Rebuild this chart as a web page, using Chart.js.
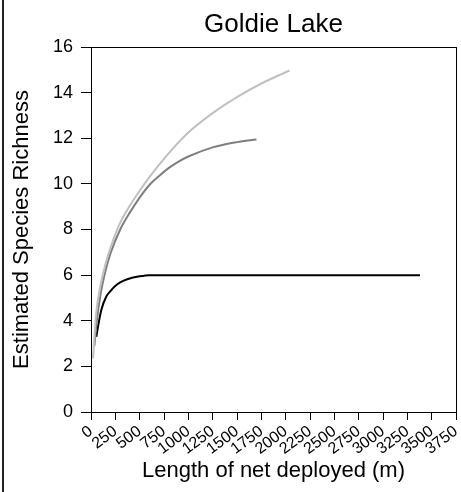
<!DOCTYPE html>
<html>
<head>
<meta charset="utf-8">
<script src="https://cdn.jsdelivr.net/npm/chart.js@4/dist/chart.umd.min.js"></script>
<style>
  body { margin: 0; background: #fff; }
  #wrap { position: relative; width: 461px; height: 492px; }
  #edge { position: absolute; left: 2px; top: 0; width: 2px; height: 492px; background: #222; }
</style>
</head>
<body>
<div id="wrap">
  <canvas id="goldieGraph" width="461" height="492"></canvas>
  <div id="edge"></div>
</div>
<script>
// rarefaction curves, net length (m) vs estimated richness
let lengthLight = [21, 50, 100, 150, 200, 300, 400, 500, 600, 800, 1000, 1250, 1500, 1750, 2040];
let richLight = [2.35, 4.2, 5.6, 6.5, 7.2, 8.3, 9.05, 9.7, 10.3, 11.35, 12.25, 13.1, 13.8, 14.4, 14.97];

let lengthDark = [35, 60, 100, 150, 200, 300, 400, 500, 600, 700, 800, 900, 1000, 1250, 1500, 1700];
let richDark = [2.9, 4.0, 5.2, 6.2, 6.95, 8.0, 8.75, 9.4, 9.95, 10.35, 10.7, 10.98, 11.2, 11.6, 11.83, 11.95];

let lengthBlack = [55, 72, 106, 157, 200, 243, 300, 380, 500, 600, 3380];
let richBlack = [3.3, 3.74, 4.47, 5.06, 5.3, 5.5, 5.68, 5.83, 5.95, 6.0, 6.0];

let xTicks = [0, 3750, 250];
let yTicks = [0, 16, 2];

function pairs(xs, ys) {
  return xs.map((x, i) => ({x: x, y: ys[i]}));
}

Chart.defaults.font.family = "'Liberation Sans', Arial, sans-serif";
Chart.defaults.color = '#000';

let myGraph = document.getElementById("goldieGraph").getContext('2d');

let graph = new Chart(myGraph, {
  type: 'line',
  data: {
    datasets: [{
      data: pairs(lengthLight, richLight),
      borderColor: '#c0c0c0',
      borderWidth: 2
    }, {
      data: pairs(lengthDark, richDark),
      borderColor: '#7f7f7f',
      borderWidth: 2
    }, {
      data: pairs(lengthBlack, richBlack),
      borderColor: '#000',
      borderWidth: 2
    }]
  },
  options: {
    responsive: false,
    animation: false,
    layout: { padding: 0 },
    elements: {
      point: { radius: 0 },
      line: { cubicInterpolationMode: 'monotone' }
    },
    plugins: {
      legend: { display: false },
      tooltip: { enabled: false }
    },
    scales: {
      x: {
        type: 'linear',
        min: xTicks[0], max: xTicks[1],
        ticks: {
          stepSize: xTicks[2],
          minRotation: 37, maxRotation: 37,
          autoSkip: false,
          padding: 2,
          font: { size: 16 },
          callback: v => String(v)
        },
        grid: { drawOnChartArea: false, tickLength: 8, color: '#000' },
        border: { color: '#000', width: 1 },
        title: {
          display: true,
          text: 'Length of net deployed (m)',
          font: { size: 22 },
          padding: { top: 0, bottom: 8 }
        },
        afterFit: s => { s.height = 80; s.paddingLeft = 0; s.paddingRight = 0; }
      },
      x2: {
        type: 'linear',
        position: 'top',
        min: xTicks[0], max: xTicks[1],
        ticks: { display: false },
        grid: { drawOnChartArea: false, drawTicks: false },
        border: { color: '#000', width: 1 },
        title: {
          display: true,
          text: 'Goldie Lake',
          font: { size: 26 },
          padding: { top: 9, bottom: 0 }
        },
        afterFit: s => { s.height = 47; s.paddingLeft = 0; s.paddingRight = 0; }
      },
      y: {
        min: yTicks[0], max: yTicks[1],
        ticks: { stepSize: yTicks[2], padding: 8, font: { size: 18 } },
        grid: { drawOnChartArea: false, tickLength: 10, color: '#000' },
        border: { color: '#000', width: 1 },
        title: {
          display: true,
          text: 'Estimated Species Richness',
          font: { size: 22 },
          padding: { top: 9, bottom: 0 }
        },
        afterFit: s => { s.width = 91; s.paddingTop = 0; s.paddingBottom = 0; }
      },
      y2: {
        position: 'right',
        min: yTicks[0], max: yTicks[1],
        ticks: { display: false },
        grid: { drawOnChartArea: false, drawTicks: false },
        border: { color: '#000', width: 1 },
        afterFit: s => { s.width = 5; s.paddingTop = 0; s.paddingBottom = 0; }
      }
    }
  }
});
</script>
</body>
</html>
